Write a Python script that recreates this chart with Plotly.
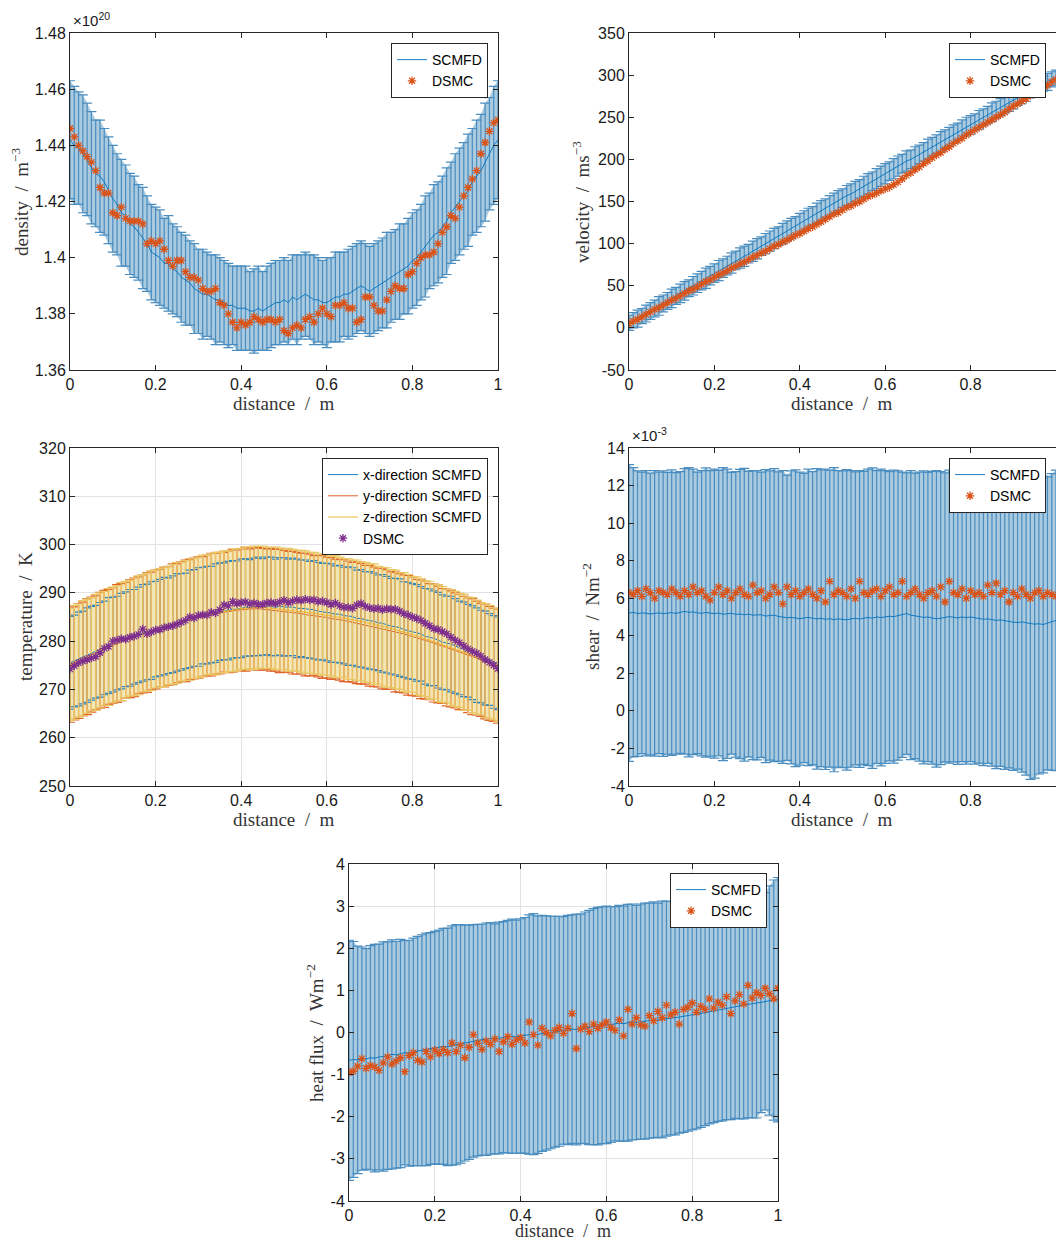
import plotly.graph_objects as go

# ---------------- data ----------------
distance = [i / 100 for i in range(101)]
x_ticks = [0, 0.2, 0.4, 0.6, 0.8, 1]
x_ticktext = ["0", "0.2", "0.4", "0.6", "0.8", "1"]

# density (x 1e20 m^-3)
density_scmfd = [
    1.442, 1.440, 1.439, 1.437, 1.435, 1.432, 1.430, 1.429, 1.427, 1.424,
    1.421, 1.419, 1.416, 1.415, 1.412, 1.411, 1.409, 1.407, 1.405, 1.402,
    1.401, 1.400, 1.398, 1.398, 1.396, 1.395, 1.393, 1.392, 1.391, 1.389,
    1.388, 1.387, 1.387, 1.386, 1.385, 1.385, 1.384, 1.383, 1.383, 1.382,
    1.382, 1.382, 1.381, 1.381, 1.382, 1.381, 1.382, 1.383, 1.384, 1.384,
    1.385, 1.384, 1.386, 1.385, 1.386, 1.387, 1.386, 1.385, 1.385, 1.384,
    1.384, 1.385, 1.386, 1.386, 1.387, 1.387, 1.388, 1.389, 1.390, 1.389,
    1.388, 1.389, 1.390, 1.391, 1.392, 1.393, 1.394, 1.395, 1.396, 1.397,
    1.399, 1.400, 1.402, 1.404, 1.406, 1.408, 1.409, 1.411, 1.413, 1.416,
    1.418, 1.420, 1.422, 1.424, 1.427, 1.429, 1.431, 1.434, 1.437, 1.440,
    1.442]
density_err = [
    0.021, 0.021, 0.020, 0.021, 0.020, 0.020, 0.019, 0.020, 0.019, 0.019,
    0.019, 0.018, 0.019, 0.018, 0.018, 0.018, 0.017, 0.018, 0.017, 0.017,
    0.017, 0.017, 0.016, 0.017, 0.016, 0.016, 0.016, 0.016, 0.015, 0.016,
    0.015, 0.016, 0.015, 0.015, 0.016, 0.015, 0.015, 0.015, 0.014, 0.015,
    0.015, 0.015, 0.014, 0.015, 0.015, 0.014, 0.015, 0.015, 0.015, 0.015,
    0.015, 0.015, 0.015, 0.016, 0.015, 0.015, 0.015, 0.016, 0.015, 0.015,
    0.016, 0.015, 0.016, 0.016, 0.015, 0.016, 0.016, 0.016, 0.016, 0.016,
    0.016, 0.016, 0.016, 0.016, 0.017, 0.016, 0.016, 0.017, 0.016, 0.017,
    0.017, 0.017, 0.017, 0.018, 0.017, 0.018, 0.018, 0.018, 0.019, 0.018,
    0.019, 0.019, 0.019, 0.020, 0.019, 0.020, 0.020, 0.021, 0.020, 0.021,
    0.021]
density_dsmc = [
    1.446, 1.443, 1.440, 1.438, 1.436, 1.434, 1.431, 1.425, 1.423, 1.423,
    1.416, 1.415, 1.418, 1.414, 1.413, 1.413, 1.413, 1.412, 1.405, 1.406,
    1.405, 1.406, 1.403, 1.399, 1.397, 1.399, 1.399, 1.395, 1.393, 1.393,
    1.392, 1.389, 1.388, 1.388, 1.389, 1.384, 1.383, 1.380, 1.377, 1.375,
    1.377, 1.376, 1.377, 1.379, 1.378, 1.377, 1.378, 1.378, 1.377, 1.378,
    1.374, 1.373, 1.375, 1.376, 1.375, 1.378, 1.379, 1.377, 1.380, 1.382,
    1.380, 1.379, 1.383, 1.383, 1.384, 1.382, 1.382, 1.377, 1.378, 1.386,
    1.386, 1.383, 1.381, 1.381, 1.385, 1.388, 1.390, 1.389, 1.389, 1.394,
    1.395, 1.398, 1.400, 1.401, 1.401, 1.402, 1.405, 1.409, 1.411, 1.415,
    1.414, 1.418, 1.422, 1.425, 1.428, 1.431, 1.437, 1.441, 1.445, 1.448,
    1.449]
density_ticks = [1.36, 1.38, 1.40, 1.42, 1.44, 1.46, 1.48]
density_ticktext = ["1.36", "1.38", "1.4", "1.42", "1.44", "1.46", "1.48"]

# velocity (m/s)
velocity_scmfd = [
    6, 9, 11, 14, 17, 20, 23, 26, 29, 32,
    35, 38, 41, 44, 47, 50, 53, 56, 59, 62,
    65, 68, 71, 74, 77, 80, 83, 85, 88, 91,
    94, 97, 100, 103, 106, 109, 112, 115, 118, 121,
    124, 127, 130, 133, 136, 139, 142, 145, 148, 151,
    154, 157, 159, 162, 165, 168, 171, 174, 177, 180,
    183, 186, 189, 192, 195, 198, 200, 203, 206, 209,
    212, 215, 218, 221, 224, 227, 230, 233, 236, 239,
    241, 244, 247, 250, 253, 256, 259, 262, 265, 267,
    270, 273, 276, 279, 282, 284, 287, 290, 292, 295,
    297]
velocity_err = [
    9, 9, 10, 9, 10, 10, 10, 11, 10, 10,
    11, 10, 11, 11, 10, 11, 11, 11, 12, 11,
    11, 12, 11, 11, 12, 11, 12, 12, 11, 12,
    12, 11, 12, 12, 12, 11, 12, 12, 12, 11,
    12, 12, 12, 11, 12, 12, 11, 12, 12, 12,
    11, 12, 12, 12, 11, 12, 12, 11, 12, 12,
    12, 11, 12, 12, 11, 12, 11, 12, 11, 11,
    12, 11, 11, 12, 11, 11, 11, 10, 11, 11,
    11, 10, 11, 10, 10, 11, 10, 10, 10, 10,
    10, 9, 10, 10, 9, 10, 9, 9, 10, 9,
    9]
velocity_dsmc = [
    5, 8, 10, 13, 16, 19, 22, 24, 27, 30,
    33, 35, 38, 41, 44, 46, 49, 52, 55, 57,
    60, 63, 65, 68, 71, 73, 76, 78, 81, 84,
    86, 89, 91, 94, 97, 99, 102, 104, 107, 110,
    112, 115, 118, 120, 123, 126, 129, 132, 135, 137,
    140, 143, 145, 148, 150, 153, 156, 158, 160, 163,
    165, 167, 170, 173, 177, 181, 184, 188, 191, 195,
    198, 202, 205, 208, 212, 215, 219, 222, 225, 229,
    232, 235, 238, 241, 244, 247, 250, 253, 256, 260,
    263, 266, 269, 272, 276, 279, 282, 285, 288, 292,
    295]
velocity_ticks = [-50, 0, 50, 100, 150, 200, 250, 300, 350]
velocity_ticktext = ["-50", "0", "50", "100", "150", "200", "250", "300", "350"]

# temperature (K)
temp_x_scmfd = [
    275.5, 275.9, 276.3, 276.6, 277.1, 277.5, 277.8, 278.2, 278.6, 279.1, 279.3,
    279.6, 280.0, 280.4, 280.7, 280.9, 281.3, 281.7, 281.9, 282.2, 282.5,
    282.8, 283.1, 283.2, 283.5, 283.9, 284.0, 284.2, 284.6, 284.8, 285.0,
    285.3, 285.4, 285.5, 285.8, 286.1, 286.2, 286.3, 286.6, 286.6, 286.8,
    287.0, 286.9, 287.1, 287.2, 287.1, 287.3, 287.2, 287.0, 287.2, 287.1,
    287.0, 287.1, 286.8, 286.8, 286.7, 286.5, 286.5, 286.2, 286.1, 286.0,
    285.8, 285.6, 285.6, 285.3, 285.2, 285.1, 284.7, 284.7, 284.4, 284.3,
    284.1, 283.8, 283.7, 283.4, 283.1, 283.0, 282.8, 282.4, 282.2, 282.0,
    281.7, 281.5, 281.0, 280.8, 280.6, 280.2, 279.8, 279.6, 279.4, 279.0,
    278.6, 278.3, 278.0, 277.6, 277.1, 276.8, 276.5, 276.2, 275.7, 275.4]
temp_y_scmfd = [
    275.0, 275.4, 275.9, 276.3, 276.8, 277.2, 277.6, 278.1, 278.4, 278.8, 279.1,
    279.5, 279.8, 280.2, 280.5, 280.8, 281.2, 281.5, 281.8, 282.1, 282.4,
    282.7, 282.9, 283.2, 283.5, 283.7, 284.0, 284.2, 284.5, 284.7, 284.9,
    285.1, 285.3, 285.5, 285.7, 285.8, 286.0, 286.1, 286.3, 286.4, 286.5,
    286.6, 286.6, 286.7, 286.7, 286.6, 286.6, 286.5, 286.4, 286.3, 286.2,
    286.1, 285.9, 285.8, 285.7, 285.5, 285.4, 285.3, 285.2, 285.0, 284.9,
    284.7, 284.6, 284.4, 284.3, 284.1, 283.9, 283.8, 283.6, 283.4, 283.2,
    283.0, 282.8, 282.6, 282.4, 282.2, 281.9, 281.7, 281.5, 281.2, 281.0,
    280.7, 280.4, 280.2, 279.9, 279.6, 279.3, 279.0, 278.7, 278.4, 278.1,
    277.8, 277.5, 277.1, 276.8, 276.5, 276.1, 275.8, 275.4, 275.1, 274.8]
temp_z_scmfd = [
    275.2, 275.6, 276.0, 276.5, 276.9, 277.3, 277.7, 278.1, 278.5, 278.8, 279.2,
    279.6, 279.9, 280.3, 280.6, 280.9, 281.2, 281.6, 281.9, 282.2, 282.5,
    282.7, 283.0, 283.2, 283.5, 283.8, 284.0, 284.3, 284.5, 284.7, 284.9,
    285.2, 285.4, 285.6, 285.7, 285.9, 286.1, 286.2, 286.4, 286.5, 286.7,
    286.8, 286.9, 286.9, 287.0, 287.0, 286.9, 286.9, 286.8, 286.7, 286.6,
    286.5, 286.4, 286.3, 286.2, 286.0, 285.9, 285.8, 285.6, 285.5, 285.4,
    285.2, 285.1, 284.9, 284.8, 284.6, 284.4, 284.3, 284.1, 283.9, 283.7,
    283.5, 283.3, 283.0, 282.8, 282.6, 282.4, 282.1, 281.9, 281.6, 281.4,
    281.1, 280.8, 280.5, 280.2, 279.9, 279.6, 279.3, 279.0, 278.7, 278.4,
    278.1, 277.7, 277.4, 277.1, 276.7, 276.4, 276.0, 275.7, 275.3, 275.0]
temp_x_err = [
    9.6, 9.5, 9.7, 9.6, 9.8, 9.7, 9.6, 9.8, 9.7, 9.9,
    9.8, 9.7, 9.9, 9.8, 10.0, 9.8, 9.9, 10.0, 9.9, 10.1,
    9.9, 10.0, 10.1, 9.9, 10.0, 10.1, 10.0, 9.9, 10.1, 10.0,
    10.2, 10.0, 10.1, 10.0, 10.2, 10.1, 10.0, 10.2, 10.1, 10.0,
    10.2, 10.1, 10.0, 10.1, 10.2, 10.0, 10.1, 10.2, 10.0, 10.1,
    10.2, 10.0, 10.1, 10.2, 10.0, 10.1, 10.0, 10.2, 10.1, 10.0,
    10.1, 10.2, 10.0, 10.1, 10.0, 10.2, 10.1, 10.0, 10.1, 10.0,
    10.1, 10.0, 9.9, 10.1, 10.0, 9.9, 10.0, 10.1, 9.9, 10.0,
    9.9, 10.0, 9.8, 9.9, 10.0, 9.8, 9.9, 9.8, 9.7, 9.9,
    9.8, 9.7, 9.8, 9.6, 9.7, 9.8, 9.6, 9.7, 9.5, 9.6,
    9.6]
temp_y_err = [
    11.8, 11.7, 11.9, 11.8, 12.0, 11.9, 11.8, 12.0, 12.1, 11.9,
    12.0, 12.2, 12.1, 12.0, 12.2, 12.3, 12.1, 12.2, 12.4, 12.2,
    12.3, 12.2, 12.4, 12.3, 12.5, 12.3, 12.4, 12.6, 12.4, 12.5,
    12.6, 12.4, 12.5, 12.7, 12.5, 12.6, 12.4, 12.6, 12.7, 12.5,
    12.6, 12.8, 12.5, 12.6, 12.7, 12.6, 12.5, 12.7, 12.6, 12.8,
    12.6, 12.5, 12.7, 12.6, 12.5, 12.7, 12.6, 12.4, 12.6, 12.7,
    12.5, 12.6, 12.4, 12.5, 12.7, 12.5, 12.4, 12.6, 12.5, 12.3,
    12.5, 12.4, 12.3, 12.5, 12.4, 12.2, 12.4, 12.3, 12.2, 12.4,
    12.3, 12.1, 12.3, 12.2, 12.0, 12.2, 12.1, 11.9, 12.1, 12.0,
    11.9, 12.0, 11.8, 11.9, 12.0, 11.8, 11.7, 11.9, 11.8, 11.7,
    11.8]
temp_z_err = [
    11.6, 11.8, 11.7, 11.9, 11.8, 11.7, 12.0, 11.9, 11.8, 12.1,
    12.0, 11.9, 12.2, 12.1, 12.0, 12.2, 12.3, 12.1, 12.2, 12.4,
    12.2, 12.3, 12.4, 12.2, 12.4, 12.5, 12.3, 12.4, 12.6, 12.4,
    12.5, 12.6, 12.4, 12.5, 12.7, 12.5, 12.6, 12.5, 12.7, 12.6,
    12.5, 12.7, 12.6, 12.8, 12.6, 12.7, 12.6, 12.5, 12.7, 12.6,
    12.5, 12.7, 12.6, 12.5, 12.6, 12.7, 12.5, 12.6, 12.4, 12.6,
    12.5, 12.4, 12.6, 12.5, 12.3, 12.5, 12.4, 12.5, 12.3, 12.4,
    12.3, 12.5, 12.2, 12.3, 12.4, 12.2, 12.3, 12.1, 12.3, 12.2,
    12.0, 12.2, 12.1, 12.0, 12.2, 11.9, 12.1, 12.0, 11.8, 12.0,
    11.9, 11.8, 12.0, 11.7, 11.9, 11.8, 11.6, 11.8, 11.7, 11.6,
    11.7]
temp_dsmc = [
    274.2, 274.9, 275.5, 275.9, 276.2, 276.5, 276.8, 277.6, 278.5, 278.9,
    280.0, 280.2, 280.5, 280.4, 280.8, 281.0, 281.4, 282.5, 281.5, 281.9,
    282.3, 282.4, 282.8, 283.0, 283.2, 283.5, 283.9, 284.3, 285.0, 284.8,
    285.3, 285.5, 285.4, 286.0, 285.8, 286.5, 287.5, 287.3, 288.2, 287.8,
    288.0, 288.1, 287.7, 287.9, 287.6, 287.6, 287.9, 288.0, 287.8, 288.1,
    288.5, 288.0, 288.3, 288.6, 288.4, 288.7, 288.5, 288.6, 288.2, 288.3,
    288.0, 287.6, 287.9, 287.3, 287.0, 287.0, 286.8, 287.5, 287.8, 287.2,
    286.9, 286.7, 286.8, 286.5, 286.7, 286.6, 286.6, 286.2, 285.7, 285.4,
    285.0, 284.7, 284.3, 283.7, 283.2, 282.6, 282.4, 282.0, 281.5, 280.8,
    280.2, 279.7, 279.0, 278.4, 277.9, 277.5, 276.9, 276.2, 275.6, 275.0,
    274.3]
temp_ticks = [250, 260, 270, 280, 290, 300, 310, 320]
temp_ticktext = ["250", "260", "270", "280", "290", "300", "310", "320"]

# shear (x 1e-3 N/m^2)
shear_scmfd = [
    5.21, 5.25, 5.18, 5.22, 5.20, 5.16, 5.19, 5.22, 5.18, 5.20,
    5.23, 5.19, 5.24, 5.30, 5.25, 5.27, 5.22, 5.20, 5.24, 5.19,
    5.18, 5.21, 5.15, 5.17, 5.20, 5.14, 5.16, 5.12, 5.15, 5.10,
    5.09, 5.12, 5.05, 5.08, 5.10, 5.03, 5.00, 4.96, 4.98, 4.93,
    4.91, 4.95, 4.98, 4.94, 4.90, 4.93, 4.88, 4.91, 4.86, 4.90,
    4.88, 4.85, 4.90, 4.93, 4.89, 4.95, 4.98, 4.94, 5.00, 4.97,
    5.00, 5.04, 5.02, 5.08, 5.12, 5.18, 5.10, 5.06, 5.02, 4.98,
    5.00, 4.96, 4.90, 4.94, 4.98, 5.02, 4.99, 4.95, 5.00, 4.97,
    5.00, 4.96, 4.92, 4.88, 4.90, 4.86, 4.82, 4.85, 4.79, 4.76,
    4.73, 4.70, 4.74, 4.68, 4.65, 4.62, 4.64, 4.60, 4.66, 4.74,
    4.82]
shear_err = [
    7.9, 7.7, 7.6, 7.5, 7.6, 7.5, 7.6, 7.5, 7.6, 7.5,
    7.6, 7.5, 7.5, 7.6, 7.7, 7.6, 7.5, 7.6, 7.7, 7.6,
    7.7, 7.6, 7.8, 7.7, 7.5, 7.6, 7.7, 7.8, 7.6, 7.7,
    7.7, 7.6, 7.8, 7.7, 7.8, 7.7, 7.8, 7.6, 7.8, 7.9,
    7.8, 7.7, 7.9, 7.8, 8.0, 7.9, 8.0, 7.9, 8.1, 7.9,
    7.9, 8.0, 7.9, 7.8, 7.9, 7.8, 7.9, 8.0, 7.8, 7.9,
    7.8, 7.7, 7.8, 7.7, 7.6, 7.5, 7.7, 7.6, 7.7, 7.8,
    7.7, 7.8, 7.9, 7.8, 7.7, 7.8, 7.7, 7.8, 7.7, 7.8,
    7.7, 7.8, 7.7, 7.8, 7.7, 7.8, 7.9, 7.8, 7.9, 7.8,
    7.9, 7.8, 8.0, 8.1, 8.3, 8.2, 8.0, 7.9, 7.8, 7.9,
    8.0]
shear_dsmc = [
    6.3, 6.2, 6.4, 6.1, 6.5, 6.3, 6.0, 6.4, 6.3, 6.2,
    6.5, 6.3, 6.1, 6.4, 6.2, 6.6, 6.3, 6.4, 6.1, 5.9,
    6.3, 6.6, 6.2, 6.4, 6.0, 6.3, 6.5, 6.2, 6.1, 6.7,
    6.3, 6.4, 6.0, 6.2, 6.6, 6.3, 5.7, 6.6, 6.2, 6.4,
    6.1, 6.3, 6.5, 6.2, 6.0, 6.4, 5.8, 6.9, 6.2, 6.4,
    6.3, 6.1, 6.5, 6.0, 6.9, 6.3, 6.2, 6.4, 6.5, 6.1,
    6.4, 6.6, 6.2, 6.3, 6.9, 6.1, 6.3, 6.5, 6.2, 6.0,
    6.3, 6.4, 6.1, 6.6, 5.8, 6.9, 6.3, 6.2, 6.5, 6.0,
    6.4, 6.2, 6.3, 6.1, 6.7, 6.3, 6.8, 6.2, 6.4, 5.8,
    6.3, 6.1, 6.5, 6.2, 6.0, 6.3, 6.4, 6.1, 6.3, 6.2,
    6.1]
shear_ticks = [-4, -2, 0, 2, 4, 6, 8, 10, 12, 14]
shear_ticktext = ["-4", "-2", "0", "2", "4", "6", "8", "10", "12", "14"]

# heat flux (W/m^2)
heat_scmfd = [
    -0.66, -0.64, -0.65, -0.62, -0.63, -0.60, -0.61, -0.58, -0.57, -0.55,
    -0.52, -0.53, -0.50, -0.48, -0.49, -0.46, -0.44, -0.42, -0.40, -0.38,
    -0.36, -0.35, -0.33, -0.34, -0.31, -0.29, -0.27, -0.25, -0.23, -0.20,
    -0.18, -0.17, -0.16, -0.14, -0.15, -0.13, -0.11, -0.10, -0.09, -0.10,
    -0.08, -0.07, -0.05, -0.04, -0.05, -0.02, -0.01, 0.00, 0.02, 0.03,
    0.05, 0.06, 0.08, 0.07, 0.09, 0.11, 0.12, 0.14, 0.15, 0.17,
    0.18, 0.19, 0.21, 0.22, 0.21, 0.23, 0.25, 0.24, 0.26, 0.27,
    0.28, 0.30, 0.29, 0.31, 0.33, 0.34, 0.35, 0.37, 0.38, 0.40,
    0.42, 0.43, 0.45, 0.47, 0.49, 0.51, 0.53, 0.56, 0.58, 0.60,
    0.62, 0.63, 0.65, 0.67, 0.68, 0.70, 0.72, 0.74, 0.76, 0.77,
    0.78]
heat_err = [
    2.85, 2.80, 2.70, 2.65, 2.62, 2.66, 2.70, 2.68, 2.72, 2.70,
    2.72, 2.69, 2.71, 2.66, 2.68, 2.70, 2.72, 2.74, 2.76, 2.75,
    2.76, 2.78, 2.80, 2.82, 2.84, 2.85, 2.83, 2.80, 2.78, 2.76,
    2.75, 2.74, 2.76, 2.75, 2.73, 2.75, 2.74, 2.76, 2.78, 2.77,
    2.78, 2.80, 2.84, 2.86, 2.82, 2.80, 2.78, 2.76, 2.74, 2.73,
    2.70, 2.72, 2.71, 2.74, 2.72, 2.75, 2.78, 2.80, 2.82, 2.81,
    2.82, 2.80, 2.78, 2.80, 2.79, 2.81, 2.80, 2.78, 2.79, 2.80,
    2.79, 2.80, 2.78, 2.81, 2.79, 2.77, 2.78, 2.76, 2.75, 2.74,
    2.73, 2.72, 2.70, 2.68, 2.66, 2.65, 2.64, 2.66, 2.65, 2.67,
    2.66, 2.68, 2.70, 2.69, 2.71, 2.73, 2.62, 2.58, 2.72, 2.85,
    2.90]
heat_dsmc = [
    -0.95, -0.92, -0.80, -0.62, -0.85, -0.78, -0.82, -0.90, -0.72, -0.58,
    -0.75, -0.68, -0.60, -0.93, -0.55, -0.48, -0.66, -0.70, -0.45, -0.58,
    -0.42, -0.50, -0.40, -0.48, -0.25, -0.45, -0.30, -0.60, -0.35, -0.05,
    -0.25, -0.40, -0.20, -0.28, -0.15, -0.45, -0.22, -0.10, -0.28, -0.18,
    -0.12, -0.25, 0.25, -0.05, -0.30, 0.10, 0.00, -0.08, 0.05, 0.12,
    -0.02, 0.10, 0.45, -0.38, 0.08, 0.15, 0.02, 0.20, 0.10, 0.18,
    0.25, 0.12, 0.05, 0.30, -0.08, 0.55, 0.20, 0.35, 0.18, 0.15,
    0.40, 0.28, 0.50, 0.35, 0.65, 0.42, 0.48, 0.20, 0.55, 0.60,
    0.70, 0.48, 0.62, 0.55, 0.80, 0.58, 0.72, 0.65, 0.85, 0.45,
    0.75, 0.90, 0.68, 1.12, 0.82, 0.95, 0.88, 1.05, 0.92, 0.80,
    1.05]
heat_ticks = [-4, -3, -2, -1, 0, 1, 2, 3, 4]
heat_ticktext = ["-4", "-3", "-2", "-1", "0", "1", "2", "3", "4"]

# ---------------- styling ----------------
BLUE = "#0072BD"
ORANGE = "#D95319"
YELLOW = "#EDB120"
PURPLE = "#7E2F8E"
AXC = "#262626"
GRIDC = "#e2e2e2"
SANS = "Liberation Sans, Arial, Helvetica, sans-serif"
SERIF = "Liberation Serif, Times New Roman, serif"

# page body margin is removed (see write_html below), so figure pixels = window pixels
FW, FH = 1056, 1241


def px(v):
    return v / FW


def py(v):
    return 1 - v / FH


fig = go.Figure()


def axes_of(n):
    s = "" if n == 1 else str(n)
    return "x" + s, "y" + s


def add_fill(n, mean, err, color):
    xa, ya = axes_of(n)
    upper = [m + e for m, e in zip(mean, err)]
    lower = [m - e for m, e in zip(mean, err)]
    fig.add_trace(go.Scatter(x=distance, y=upper, xaxis=xa, yaxis=ya, mode="lines",
                             line=dict(width=0, color=color), showlegend=False, hoverinfo="skip"))
    fig.add_trace(go.Scatter(x=distance, y=lower, xaxis=xa, yaxis=ya, mode="lines",
                             line=dict(width=0, color=color), fill="tonexty", fillcolor=color,
                             showlegend=False, hoverinfo="skip"))


def add_errline(n, mean, err, color, bar_color, name, legend, thick=1.2):
    xa, ya = axes_of(n)
    fig.add_trace(go.Scatter(x=distance, y=mean, xaxis=xa, yaxis=ya, mode="lines",
                             line=dict(color=color, width=0.9),
                             error_y=dict(type="data", array=err, visible=True, color=bar_color,
                                          thickness=thick, width=5),
                             name=name, legend=legend))


def add_dsmc(n, vals, color, legend):
    xa, ya = axes_of(n)
    fig.add_trace(go.Scatter(x=distance, y=vals, xaxis=xa, yaxis=ya, mode="markers",
                             marker=dict(symbol="asterisk-open", size=7, color=color,
                                         line=dict(color=color, width=1.3)),
                             name="DSMC", legend=legend))


BLUE_FILL = "#a9cadf"
BLUE_BAR = "#4a8dc0"

# panel 1: density
add_fill(1, density_scmfd, density_err, BLUE_FILL)
add_errline(1, density_scmfd, density_err, BLUE, BLUE_BAR, "SCMFD", "legend")
add_dsmc(1, density_dsmc, ORANGE, "legend")

# panel 2: velocity
add_fill(2, velocity_scmfd, velocity_err, BLUE_FILL)
add_errline(2, velocity_scmfd, velocity_err, BLUE, BLUE_BAR, "SCMFD", "legend2")
add_dsmc(2, velocity_dsmc, ORANGE, "legend2")

# panel 3: temperature
add_fill(3, temp_z_scmfd, temp_z_err, "#f4e6b4")
add_errline(3, temp_x_scmfd, temp_x_err, BLUE, "#2f86c0", "x-direction SCMFD", "legend3")
add_errline(3, temp_y_scmfd, temp_y_err, ORANGE, "#e0662c", "y-direction SCMFD", "legend3")
add_errline(3, temp_z_scmfd, temp_z_err, YELLOW, "#e9c765", "z-direction SCMFD", "legend3")
add_dsmc(3, temp_dsmc, PURPLE, "legend3")

# panel 4: shear
add_fill(4, shear_scmfd, shear_err, BLUE_FILL)
add_errline(4, shear_scmfd, shear_err, BLUE, BLUE_BAR, "SCMFD", "legend4")
add_dsmc(4, shear_dsmc, ORANGE, "legend4")

# panel 5: heat flux
add_fill(5, heat_scmfd, heat_err, BLUE_FILL)
add_errline(5, heat_scmfd, heat_err, BLUE, BLUE_BAR, "SCMFD", "legend5")
add_dsmc(5, heat_dsmc, ORANGE, "legend5")

# ---------------- layout ----------------
panels = {
    1: dict(x=(70, 498), y=(33, 370), yt=density_ticks, ytt=density_ticktext, grid=False, ym="ticks"),
    2: dict(x=(629, 1056), y=(33, 370), yt=velocity_ticks, ytt=velocity_ticktext, grid=False, ym=False),
    3: dict(x=(70, 498), y=(448, 786), yt=temp_ticks, ytt=temp_ticktext, grid=True, ym="ticks"),
    4: dict(x=(629, 1056), y=(448, 786), yt=shear_ticks, ytt=shear_ticktext, grid=False, ym=False),
    5: dict(x=(349, 778), y=(864, 1201), yt=heat_ticks, ytt=heat_ticktext, grid=True, ym="ticks"),
}

layout = dict(
    template="none",
    width=FW, height=FH, autosize=False,
    margin=dict(l=0, r=0, t=0, b=0, pad=0, autoexpand=False),
    paper_bgcolor="white", plot_bgcolor="white", showlegend=True,
    font=dict(family=SANS, color=AXC),
)

common = dict(showline=True, linecolor=AXC, linewidth=1, ticks="inside",
              ticklen=5, tickwidth=1, tickcolor=AXC, zeroline=False, gridcolor=GRIDC,
              gridwidth=1, tickfont=dict(family=SANS, size=16, color="#1a1a1a"),
              tickmode="array", fixedrange=True, automargin=False)

for n, p in panels.items():
    s = "" if n == 1 else str(n)
    xa, ya = axes_of(n)
    layout["xaxis" + s] = dict(domain=[px(p["x"][0]), min(1.0, px(p["x"][1]))], range=[0, 1],
                               tickvals=x_ticks, ticktext=x_ticktext, anchor=ya, mirror="ticks",
                               showgrid=p["grid"], **common)
    layout["yaxis" + s] = dict(domain=[py(p["y"][1]), py(p["y"][0])],
                               range=[p["yt"][0], p["yt"][-1]], mirror=p["ym"],
                               tickvals=p["yt"], ticktext=p["ytt"], anchor=xa,
                               showgrid=p["grid"], **common)

legend_style = dict(xanchor="right", yanchor="top", bgcolor="white", bordercolor=AXC,
                    borderwidth=1, font=dict(family=SANS, size=14, color="black"),
                    itemwidth=30, tracegroupgap=0, traceorder="normal")
layout["legend"] = dict(x=px(488), y=py(43), **legend_style)
layout["legend2"] = dict(x=px(1046), y=py(43), **legend_style)
layout["legend3"] = dict(x=px(488), y=py(458), **legend_style)
layout["legend4"] = dict(x=px(1046), y=py(458), **legend_style)
layout["legend5"] = dict(x=px(767), y=py(873), **legend_style)

TF = dict(family=SERIF, size=19, color="#333333")
ann = []


def title(text, x, y, angle=0, size=19):
    ann.append(dict(text=text, x=px(x), y=py(y), xref="paper", yref="paper", showarrow=False,
                    xanchor="center", yanchor="middle", textangle=angle,
                    font=dict(TF, size=size)))


title("distance  /  m", 284, 404)
title("distance  /  m", 842, 404)
title("distance  /  m", 284, 819)
title("distance  /  m", 842, 819)
title("distance  /  m", 563, 1231, size=18)
title("density  /  m<sup>−3</sup>", 20, 202, -90)
title("velocity  /  ms<sup>−3</sup>", 581, 202, -90)
title("temperature  /  K", 25, 617, -90)
title("shear  /  Nm<sup>−2</sup>", 591, 617, -90)
title("heat flux  /  Wm<sup>−2</sup>", 315, 1033, -90)

ann.append(dict(text="×10<sup>20</sup>", x=px(71), y=py(31), xref="paper", yref="paper",
                showarrow=False, xanchor="left", yanchor="bottom",
                font=dict(family=SANS, size=15, color="#1a1a1a")))
ann.append(dict(text="×10<sup>-3</sup>", x=px(630), y=py(446), xref="paper", yref="paper",
                showarrow=False, xanchor="left", yanchor="bottom",
                font=dict(family=SANS, size=15, color="#1a1a1a")))
layout["annotations"] = ann

fig.update_layout(**layout)
fig.write_html(
    "out.html",
    config={"displayModeBar": False, "staticPlot": True},
    post_script="document.body.style.margin='0px';document.documentElement.style.overflow='hidden';",
)
